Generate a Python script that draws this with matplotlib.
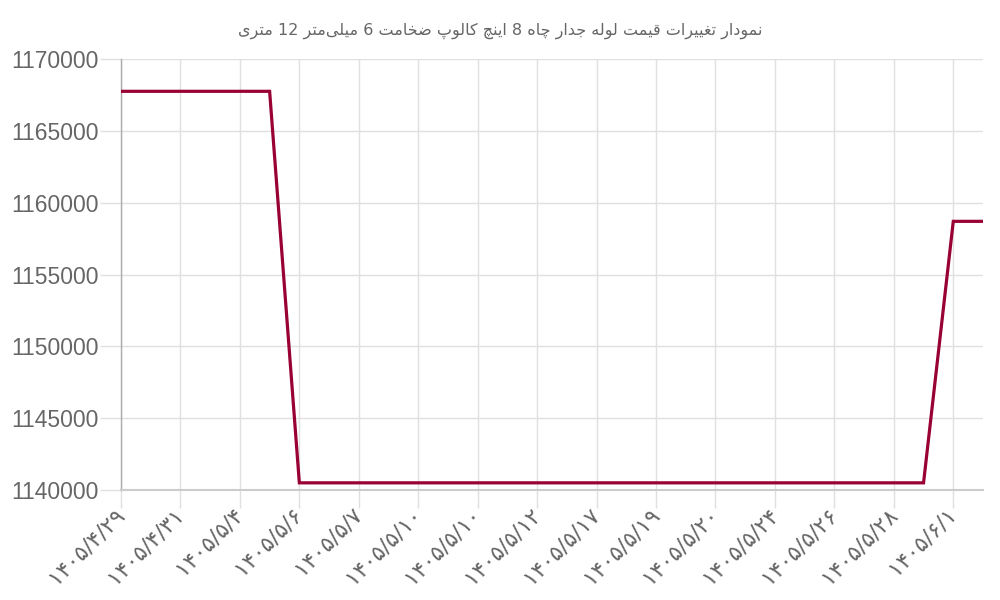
import re
import matplotlib
matplotlib.use("Agg")
import matplotlib.pyplot as plt

# title (logical order, Persian)
title = "نمودار تغییرات قیمت لوله جدار چاه 8 اینچ کالوپ ضخامت 6 میلی\u200cمتر 12 متری"

# labelled dates (every other point is labelled on the axis)
tick_labels = ["۱۴۰۵/۴/۲۹", "۱۴۰۵/۴/۳۱", "۱۴۰۵/۵/۴", "۱۴۰۵/۵/۶", "۱۴۰۵/۵/۷",
               "۱۴۰۵/۵/۱۰", "۱۴۰۵/۵/۱۰", "۱۴۰۵/۵/۱۲", "۱۴۰۵/۵/۱۷", "۱۴۰۵/۵/۱۹",
               "۱۴۰۵/۵/۲۰", "۱۴۰۵/۵/۲۴", "۱۴۰۵/۵/۲۶", "۱۴۰۵/۵/۲۸", "۱۴۰۵/۶/۱"]

# price per point
prices = [1167750] * 6 + [1140500] * 22 + [1158700] * 2

# contextual forms: isolated, final, initial, medial
FORMS = {
    "ا": ("\uFE8D", "\uFE8E", None, None),
    "د": ("\uFEA9", "\uFEAA", None, None),
    "ر": ("\uFEAD", "\uFEAE", None, None),
    "و": ("\uFEED", "\uFEEE", None, None),
    "ت": ("\uFE95", "\uFE96", "\uFE97", "\uFE98"),
    "ج": ("\uFE9D", "\uFE9E", "\uFE9F", "\uFEA0"),
    "خ": ("\uFEA5", "\uFEA6", "\uFEA7", "\uFEA8"),
    "ض": ("\uFEBD", "\uFEBE", "\uFEBF", "\uFEC0"),
    "غ": ("\uFECD", "\uFECE", "\uFECF", "\uFED0"),
    "ق": ("\uFED5", "\uFED6", "\uFED7", "\uFED8"),
    "ل": ("\uFEDD", "\uFEDE", "\uFEDF", "\uFEE0"),
    "م": ("\uFEE1", "\uFEE2", "\uFEE3", "\uFEE4"),
    "ن": ("\uFEE5", "\uFEE6", "\uFEE7", "\uFEE8"),
    "ه": ("\uFEE9", "\uFEEA", "\uFEEB", "\uFEEC"),
    "پ": ("\uFB56", "\uFB57", "\uFB58", "\uFB59"),
    "چ": ("\uFB7A", "\uFB7B", "\uFB7C", "\uFB7D"),
    "ک": ("\uFB8E", "\uFB8F", "\uFB90", "\uFB91"),
    "ی": ("\uFBFC", "\uFBFD", "\uFBFE", "\uFBFF"),
}


def shape_word(word):
    if re.fullmatch(r"\d+", word):
        return word
    out = []
    for i, ch in enumerate(word):
        if ch not in FORMS:
            out.append(ch)
            continue
        prev = word[i - 1] if i > 0 else ""
        nxt = word[i + 1] if i + 1 < len(word) else ""
        jp = prev in FORMS and FORMS[prev][2] is not None
        jn = FORMS[ch][2] is not None and nxt in FORMS
        iso, fin, ini, med = FORMS[ch]
        out.append(med if jp and jn else fin if jp else ini if jn else iso)
    return "".join(out).replace("\u200c", "")[::-1]


# right-to-left: last word drawn leftmost
title_shown = " ".join(shape_word(w) for w in reversed(title.split(" ")))

line_color = "#990033"
grid_color = "#e0e0e0"
text_color = "#666666"

fig = plt.figure(figsize=(10, 6), dpi=100)
ax = fig.add_axes([0.121, 0.1833, 0.862, 0.7184])

x = list(range(len(prices)))
ax.plot(x, prices, color=line_color, linewidth=2.3, solid_joinstyle="miter", zorder=3)

ax.set_xlim(0, len(prices) - 1)
ax.set_ylim(1140000, 1170000)
ax.set_yticks(range(1140000, 1170001, 5000))
ax.set_yticklabels([str(v) for v in range(1140000, 1170001, 5000)],
                   fontsize=16.5, color=text_color, family="Liberation Sans")
ax.set_xticks(x[::2])
ax.set_xticklabels(tick_labels, rotation=45, ha="right", va="center",
                   rotation_mode="anchor", fontsize=16, color=text_color,
                   family="DejaVu Sans")

ax.grid(True, color=grid_color, linewidth=1)
ax.set_axisbelow(True)
ax.tick_params(axis="x", length=13, width=1, color=grid_color, pad=2)
ax.tick_params(axis="y", length=15, width=1, color=grid_color, pad=1)

for side in ["top", "right"]:
    ax.spines[side].set_visible(False)
ax.spines["left"].set_color("#aaaaaa")
ax.spines["bottom"].set_color("#cccccc")
ax.spines["left"].set_linewidth(1)
ax.spines["bottom"].set_linewidth(1.5)

fig.text(0.5, 0.948, title_shown, ha="center", va="center", fontsize=11.5,
         color=text_color, family="DejaVu Sans")

fig.savefig("out.png", dpi=100)
